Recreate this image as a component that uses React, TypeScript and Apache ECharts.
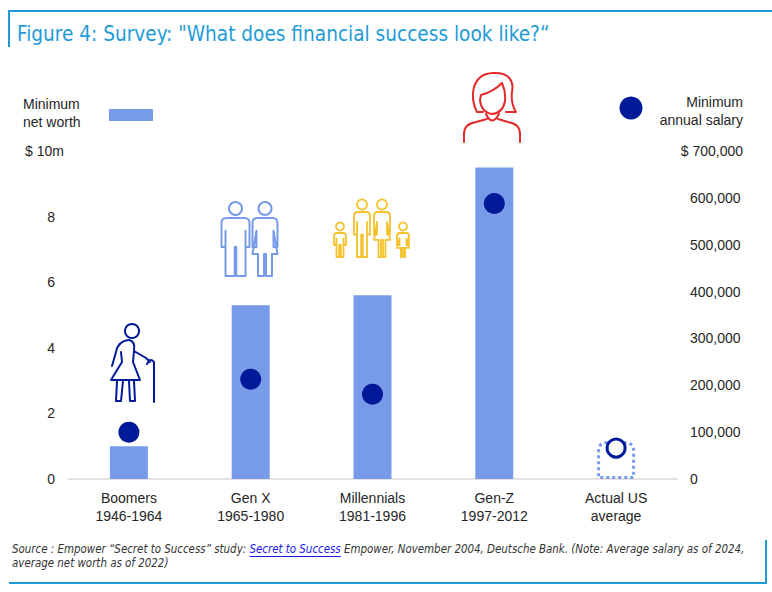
import React, { useEffect, useRef } from "react";
import * as echarts from "echarts";

// data
const CATEGORIES = [
  "Boomers\n1946-1964",
  "Gen X\n1965-1980",
  "Millennials\n1981-1996",
  "Gen-Z\n1997-2012",
  "Actual US\naverage",
];
const NET_WORTH = [1.0, 5.3, 5.6, 9.5, 1.15]; // $m
const SALARY = [100000, 213000, 181000, 588000, 66000]; // $
const ACTUAL_INDEX = 4;

const TITLE = 'Figure 4: Survey: "What does financial success look like?“';
const NOTE_PRE = "Source : Empower “Secret to Success” study: ";
const NOTE_LINK = "Secret to Success";
const NOTE_POST = " Empower, November 2004, Deutsche Bank. (Note: Average salary as of 2024,";
const NOTE_LINE2 = "average net worth as of 2022)";

const BAR_COLOR = "#789be9";
const DOT_COLOR = "#001a9a";
const DB_BLUE = "#1e9bd7";
const TEXT = "#262626";
const SANS = "'Liberation Sans', Arial, sans-serif";
const NARROW = "'Liberation Sans Narrow', 'DejaVu Sans Condensed', sans-serif";

// --- icon outlines ---
function manPath(cx: number, sy: number, hw: number, h: number, aw: number) {
  const r = Math.min(5, hw / 2);
  const L = cx - hw, R = cx + hw, iL = L + aw, iR = R - aw;
  const arm = sy + 0.5 * h, pit = sy + 0.22 * h, foot = sy + h, crotch = sy + 0.5 * h;
  return `M${L} ${arm} L${L} ${sy + r} Q${L} ${sy} ${L + r} ${sy} L${R - r} ${sy} Q${R} ${sy} ${R} ${sy + r} L${R} ${arm} L${iR} ${arm} L${iR} ${pit} L${iR} ${foot} L${cx + 0.8} ${foot} L${cx + 0.8} ${crotch} L${cx - 0.8} ${crotch} L${cx - 0.8} ${foot} L${iL} ${foot} L${iL} ${pit} L${iL} ${arm} Z `;
}

function womanPath(cx: number, sy: number, hw: number, h: number, aw: number) {
  const r = Math.min(5, hw / 2);
  const L = cx - hw, R = cx + hw, iL = L + aw, iR = R - aw;
  const arm = sy + 0.5 * h, pit = sy + 0.22 * h, foot = sy + h, hem = sy + 0.62 * h;
  const lw = hw - aw - 1.5, hemW = hw;
  return `M${L} ${arm} L${L} ${sy + r} Q${L} ${sy} ${L + r} ${sy} L${R - r} ${sy} Q${R} ${sy} ${R} ${sy + r} L${R} ${arm} L${iR} ${arm} L${iR} ${pit} L${cx + hemW} ${hem} L${cx + lw} ${hem} L${cx + lw} ${foot} L${cx + 1} ${foot} L${cx + 1} ${hem} L${cx - 1} ${hem} L${cx - 1} ${foot} L${cx - lw} ${foot} L${cx - lw} ${hem} L${cx - hemW} ${hem} L${iL} ${pit} L${iL} ${arm} Z `;
}

const OLD_WOMAN =
  "M128 340 C121 341 117 346 116 352 L112 366 " +
  "M121 352 L122 362 L111 380 L140 380 L133 362 L134 351 L146 358 L150 362 " +
  "M129 340 C134 341 135 345 134 351 " +
  "M117 381 L116 401 L121 401 L123 381 " +
  "M129 381 L130 401 L135 401 L134 381 " +
  "M147 364 Q150 357 154 362 L154 402";

const COUPLE = manPath(235.5, 218, 14, 58, 4) + womanPath(265, 218, 12.5, 58, 4);

const FAMILY =
  manPath(362, 212, 8, 45, 3) +
  womanPath(382, 212, 8, 45, 3) +
  manPath(340, 233, 6, 24, 2.5) +
  womanPath(403, 233, 6, 24, 2.5);

const RED_WOMAN =
  "M477 112 C470 100 470 74 493 73 C510 72 514 82 512 92 C511 100 513 107 516 112 L506 112 " +
  "M477 112 L483 112 " +
  "M481 95 Q493 92 502 83 Q506 92 505 101 Q503 113 492 114 Q481 112 480 100 Z " +
  "M486 114 Q492 127 499 114 " +
  "M464 142 L464 134 Q464 124 476 122 L487 119 " +
  "M498 119 L508 122 Q520 124 520 134 L520 142";

echarts.graphic.registerShape("iconOldWoman", echarts.graphic.extendPath(OLD_WOMAN, {}));
echarts.graphic.registerShape("iconCouple", echarts.graphic.extendPath(COUPLE, {}));
echarts.graphic.registerShape("iconFamily", echarts.graphic.extendPath(FAMILY, {}));
echarts.graphic.registerShape("iconRedWoman", echarts.graphic.extendPath(RED_WOMAN, {}));

const outline = (stroke: string, lineWidth = 2) => ({
  fill: "none",
  stroke,
  lineWidth,
  lineJoin: "round",
  lineCap: "round",
});

export default function App() {
  const ref = useRef<HTMLDivElement>(null);

  useEffect(() => {
    if (!ref.current) return;
    const chart = echarts.init(ref.current, null, { renderer: "svg" });

    // fit the footnote's first line to the reference width, then place the link underline
    const ctx = document.createElement("canvas").getContext("2d")!;
    ctx.font = `italic 12px ${NARROW}`;
    const fullW = ctx.measureText(NOTE_PRE + NOTE_LINK + NOTE_POST).width;
    const noteSize = Math.min(13, (12 * 733) / fullW);
    const noteFont = `italic ${noteSize.toFixed(2)}px ${NARROW}`;
    ctx.font = noteFont;
    const preW = ctx.measureText(NOTE_PRE).width;
    const linkW = ctx.measureText(NOTE_LINK).width;
    const noteX = 12;

    const barData = NET_WORTH.map((v, i) =>
      i === ACTUAL_INDEX
        ? {
            value: v,
            itemStyle: {
              color: "rgba(0,0,0,0)",
              borderColor: BAR_COLOR,
              borderWidth: 3,
              borderType: [3, 3],
              borderRadius: [7, 7, 0, 0],
            },
          }
        : v
    );
    const dotData = SALARY.map((v, i) =>
      i === ACTUAL_INDEX
        ? {
            value: v,
            symbolSize: 18,
            itemStyle: { color: "#fff", borderColor: DOT_COLOR, borderWidth: 3, opacity: 1 },
          }
        : v
    );

    chart.setOption({
      animation: false,
      backgroundColor: "#fff",
      textStyle: { fontFamily: SANS },
      grid: { left: 68, right: 95, top: 151, bottom: 113 },
      xAxis: {
        type: "category",
        data: CATEGORIES,
        axisLine: { lineStyle: { color: "#d9d9d9", width: 1.5 } },
        axisTick: { show: false },
        axisLabel: { color: TEXT, fontSize: 14, lineHeight: 18, margin: 10 },
      },
      yAxis: [
        {
          type: "value",
          min: 0,
          max: 10,
          interval: 2,
          splitLine: { show: false },
          axisLine: { show: false },
          axisTick: { show: false },
          axisLabel: {
            color: TEXT,
            fontSize: 14,
            margin: 13,
            formatter: (v: number) => (v === 10 ? "" : String(v)),
          },
        },
        {
          type: "value",
          min: 0,
          max: 700000,
          interval: 100000,
          position: "right",
          splitLine: { show: false },
          axisLine: { show: false },
          axisTick: { show: false },
          axisLabel: {
            color: TEXT,
            fontSize: 14,
            margin: 13,
            formatter: (v: number) => (v === 700000 ? "" : v.toLocaleString("en-US")),
          },
        },
      ],
      series: [
        {
          type: "bar",
          yAxisIndex: 0,
          barWidth: 38,
          itemStyle: { color: BAR_COLOR },
          data: barData,
        },
        {
          type: "scatter",
          yAxisIndex: 1,
          symbol: "circle",
          symbolSize: 21,
          itemStyle: { color: DOT_COLOR, opacity: 1 },
          data: dotData,
          z: 3,
        },
      ],
      graphic: [
        // frame
        { type: "line", shape: { x1: 9, y1: 11, x2: 772, y2: 11 }, style: { stroke: DB_BLUE, lineWidth: 2 } },
        { type: "line", shape: { x1: 9, y1: 10, x2: 9, y2: 47 }, style: { stroke: DB_BLUE, lineWidth: 2 } },
        { type: "line", shape: { x1: 9, y1: 583, x2: 766, y2: 583 }, style: { stroke: DB_BLUE, lineWidth: 2 } },
        { type: "line", shape: { x1: 766, y1: 540, x2: 766, y2: 584 }, style: { stroke: DB_BLUE, lineWidth: 2 } },
        // title
        {
          type: "text",
          x: 17,
          y: 34,
          style: {
            text: TITLE,
            fill: DB_BLUE,
            font: `20.6px ${NARROW}`,
            textVerticalAlign: "middle",
          },
        },
        // legend: net worth
        {
          type: "text",
          x: 23,
          y: 113,
          style: {
            text: "Minimum\nnet worth",
            fill: TEXT,
            font: `14px ${SANS}`,
            lineHeight: 18,
            textVerticalAlign: "middle",
          },
        },
        { type: "rect", shape: { x: 109, y: 109, width: 44, height: 12 }, style: { fill: BAR_COLOR } },
        {
          type: "text",
          x: 25,
          y: 151,
          style: { text: "$ 10m", fill: TEXT, font: `14px ${SANS}`, textVerticalAlign: "middle" },
        },
        // legend: salary
        { type: "circle", shape: { cx: 631, cy: 108, r: 11.5 }, style: { fill: DOT_COLOR } },
        {
          type: "text",
          x: 743,
          y: 111,
          style: {
            text: "Minimum\nannual salary",
            fill: TEXT,
            font: `14px ${SANS}`,
            lineHeight: 18,
            textAlign: "right",
            textVerticalAlign: "middle",
          },
        },
        {
          type: "text",
          x: 743,
          y: 151,
          style: {
            text: "$ 700,000",
            fill: TEXT,
            font: `14px ${SANS}`,
            textAlign: "right",
            textVerticalAlign: "middle",
          },
        },
        // icons
        { type: "circle", shape: { cx: 132, cy: 331, r: 7 }, style: outline(DOT_COLOR, 2) },
        { type: "iconOldWoman", style: outline(DOT_COLOR, 2) },
        { type: "circle", shape: { cx: 235.5, cy: 208.5, r: 6.5 }, style: outline(BAR_COLOR, 2) },
        { type: "circle", shape: { cx: 265, cy: 208.5, r: 6.5 }, style: outline(BAR_COLOR, 2) },
        { type: "iconCouple", style: outline(BAR_COLOR, 2) },
        { type: "circle", shape: { cx: 362, cy: 204.5, r: 5 }, style: outline("#f5c22b", 1.8) },
        { type: "circle", shape: { cx: 382, cy: 204.5, r: 5 }, style: outline("#f5c22b", 1.8) },
        { type: "circle", shape: { cx: 340, cy: 226.5, r: 4 }, style: outline("#f5c22b", 1.8) },
        { type: "circle", shape: { cx: 403, cy: 226.5, r: 4 }, style: outline("#f5c22b", 1.8) },
        { type: "iconFamily", style: outline("#f5c22b", 1.8) },
        { type: "iconRedWoman", style: outline("#e32a2a", 2) },
        // footnote
        {
          type: "text",
          x: noteX,
          y: 542,
          style: {
            text: `{a|${NOTE_PRE}}{l|${NOTE_LINK}}{a|${NOTE_POST}}\n{a|${NOTE_LINE2}}`,
            font: noteFont,
            rich: {
              a: { fill: "#333", font: noteFont, lineHeight: 14 },
              l: { fill: "#1a1aee", font: noteFont, lineHeight: 14 },
            },
          },
        },
        {
          type: "line",
          shape: { x1: noteX + preW, y1: 556.5, x2: noteX + preW + linkW, y2: 556.5 },
          style: { stroke: "#1a1aee", lineWidth: 1 },
        },
      ],
    });

    return () => chart.dispose();
  }, []);

  return (
    <div
      ref={ref}
      style={{ position: "absolute", left: 0, top: 0, width: 772, height: 592, background: "#fff" }}
    />
  );
}
